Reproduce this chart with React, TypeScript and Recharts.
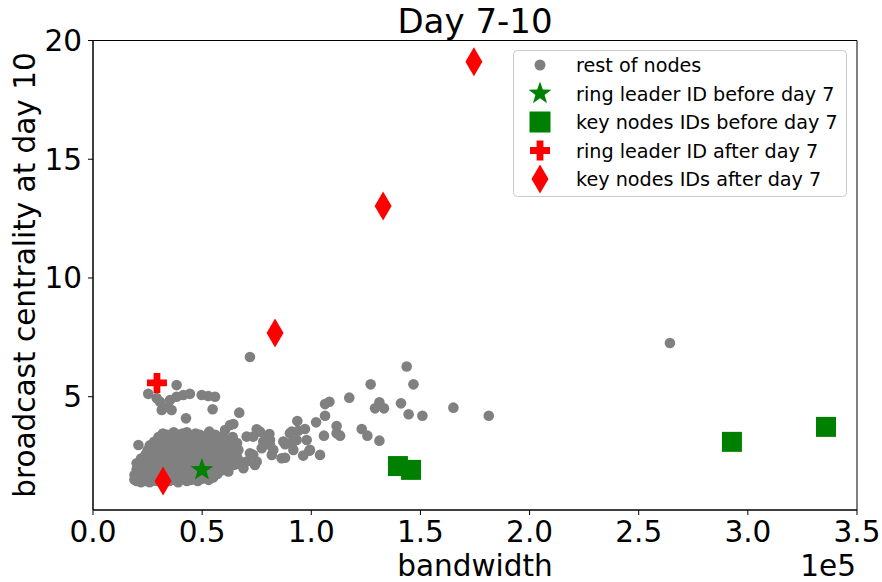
import React from 'react';
import { ScatterChart, Scatter, XAxis, YAxis, ReferenceArea } from 'recharts';

const FONT = '"DejaVu Sans", sans-serif';

// [bandwidth, broadcast centrality]
const restOfNodes: [number, number][] = [
  [71900, 6.67], [264300, 7.26], [143700, 6.27], [127200, 5.52], [146800, 5.52], [117400, 4.96],
  [108300, 4.79], [106300, 4.69], [131200, 4.77], [129200, 4.51], [133300, 4.51], [141100, 4.72],
  [144600, 4.26], [150900, 4.2], [165100, 4.54], [181300, 4.2], [106300, 4.2], [111600, 3.77],
  [105800, 3.36], [113200, 3.36], [123100, 3.64], [125700, 3.36], [131200, 3.15], [104000, 2.55],
  [93600, 3.98], [102200, 3.92], [91000, 3.53], [94000, 3.57], [97100, 3.64], [88000, 3.0],
  [91800, 3.11], [88000, 2.43], [96300, 2.52], [99100, 2.73], [67000, 4.33], [64300, 3.85],
  [60500, 3.6], [59000, 3.32], [75000, 3.63], [76500, 3.53], [73400, 3.32], [80800, 3.43],
  [81100, 3.18], [78000, 3.11], [77300, 2.83], [82600, 2.76], [81900, 2.55], [73400, 2.55],
  [70400, 2.27], [74200, 2.13], [68900, 1.99], [64300, 2.13], [61200, 1.92], [87200, 3.11],
  [90200, 3.04], [93300, 3.18], [86400, 2.41], [38300, 5.49], [25300, 5.12], [29200, 4.94],
  [30700, 4.79], [35300, 4.86], [38300, 5.0], [41400, 5.07], [44400, 5.12], [49800, 5.07],
  [52800, 5.03], [55900, 5.0], [34500, 4.58], [31500, 4.44], [36000, 4.44], [54800, 4.47],
  [42600, 4.09], [53300, 3.53], [20800, 2.97], [62800, 3.81], [70400, 3.32], [79600, 3.32],
  [81100, 2.97], [71900, 2.62], [75000, 2.27], [66600, 2.76], [90200, 3.46], [97900, 3.18],
  [91800, 2.76], [99400, 2.76], [111600, 3.46],
  [19000, 1.5], [19000, 1.7], [20000, 1.45], [20000, 1.95], [20000, 2.2], [21000, 1.6], [21000, 1.85],
  [22000, 1.4], [22000, 2.05], [22000, 2.4], [23000, 1.55], [23000, 1.75], [23000, 2.25],
  [24000, 1.45], [24000, 1.95], [24000, 2.55], [25000, 1.65], [25000, 2.15], [25000, 2.75],
  [26000, 1.4], [26000, 1.85], [26000, 2.4], [26000, 2.95], [27000, 1.55], [27000, 2.1], [27000, 2.6],
  [28000, 1.7], [28000, 2.3], [28000, 2.85], [28000, 3.1], [29000, 1.45], [29000, 1.95], [29000, 2.5],
  [30000, 1.6], [30000, 2.15], [30000, 2.75], [30000, 3.3], [31000, 1.85], [31000, 2.4], [31000, 3.0],
  [32000, 1.55], [32000, 2.1], [32000, 2.65], [32000, 3.45], [33000, 1.4], [33000, 1.9], [33000, 2.85],
  [33000, 3.2], [34000, 1.65], [34000, 2.3], [34000, 2.55], [34000, 3.4], [35000, 1.45], [35000, 2.05],
  [35000, 2.8], [35000, 3.05], [36000, 1.75], [36000, 2.45], [36000, 3.3], [37000, 1.5], [37000, 2.2],
  [37000, 2.7], [37000, 3.5], [38000, 1.95], [38000, 2.95], [38000, 3.15], [39000, 1.4], [39000, 1.65],
  [39000, 2.4], [39000, 3.4], [40000, 2.1], [40000, 2.65], [40000, 3.0], [41000, 1.55], [41000, 1.85],
  [41000, 2.9], [41000, 3.45], [42000, 2.3], [42000, 2.55], [42000, 3.2], [43000, 1.45], [43000, 2.0],
  [43000, 2.8], [43000, 3.5], [44000, 1.7], [44000, 2.45], [44000, 3.1], [45000, 1.5], [45000, 2.2],
  [45000, 2.75], [45000, 3.35], [46000, 1.9], [46000, 2.55], [46000, 3.0], [47000, 1.6], [47000, 2.35],
  [47000, 3.45], [48000, 1.45], [48000, 2.05], [48000, 2.85], [48000, 3.2], [49000, 1.75], [49000, 2.5],
  [49000, 3.4], [50000, 1.55], [50000, 2.25], [50000, 2.95], [51000, 1.95], [51000, 2.7], [51000, 3.3],
  [52000, 1.65], [52000, 2.4], [52000, 3.05], [53000, 1.5], [53000, 2.15], [53000, 2.85], [53000, 3.45],
  [54000, 1.85], [54000, 2.6], [54000, 3.2], [55000, 1.6], [55000, 2.35], [55000, 2.95], [56000, 2.05],
  [56000, 2.75], [56000, 3.4], [57000, 1.75], [57000, 2.5], [57000, 3.15], [58000, 2.2], [58000, 2.9],
  [59000, 1.9], [59000, 2.65], [59000, 3.05], [60000, 2.4], [60000, 3.25], [61000, 2.1], [61000, 2.8],
  [62000, 1.85], [62000, 2.55], [62000, 3.1], [63000, 2.3], [63000, 2.95], [64000, 2.6], [64000, 3.3],
  [65000, 2.15], [65000, 2.85], [66000, 2.45], [66000, 3.05], [67000, 2.3],
];
const ringLeaderBefore: [number, number][] = [[49900, 1.92]];
const keyNodesBefore: [number, number][] = [[139700, 2.08], [145700, 1.92], [292700, 3.1], [335800, 3.73]];
const ringLeaderAfter: [number, number][] = [[29300, 5.58]];
const keyNodesAfter: [number, number][] = [[32100, 1.45], [83400, 7.68], [132900, 13.03], [174500, 19.1]];

const xTicks = [0, 50000, 100000, 150000, 200000, 250000, 300000, 350000];
const yTicks = [5, 10, 15, 20];
const xDomain: [number, number] = [0, 350000];
const yDomain: [number, number] = [0.23, 20];

const legendLabels = [
  'rest of nodes',
  'ring leader ID before day 7',
  'key nodes IDs before day 7',
  'ring leader ID after day 7',
  'key nodes IDs after day 7',
];

const toPts = (arr: [number, number][]) => arr.map(([x, y]) => ({ x, y }));

const GREY = '#808080';
const GREEN = '#008000';
const RED = '#ff0000';

function starPath(cx: number, cy: number, R: number, r: number) {
  let d = '';
  for (let i = 0; i < 10; i++) {
    const rad = i % 2 === 0 ? R : r;
    const a = -Math.PI / 2 + (i * Math.PI) / 5;
    d += (i === 0 ? 'M' : 'L') + (cx + rad * Math.cos(a)).toFixed(2) + ',' + (cy + rad * Math.sin(a)).toFixed(2);
  }
  return d + 'Z';
}
function plusPath(cx: number, cy: number, h: number, w: number) {
  return `M${cx - w},${cy - h}L${cx + w},${cy - h}L${cx + w},${cy - w}L${cx + h},${cy - w}L${cx + h},${cy + w}L${cx + w},${cy + w}L${cx + w},${cy + h}L${cx - w},${cy + h}L${cx - w},${cy + w}L${cx - h},${cy + w}L${cx - h},${cy - w}L${cx - w},${cy - w}Z`;
}
function diamondPath(cx: number, cy: number, hw: number, hh: number) {
  return `M${cx},${cy - hh}L${cx + hw},${cy}L${cx},${cy + hh}L${cx - hw},${cy}Z`;
}

const CircleShape = (p: any) => <circle cx={p.cx} cy={p.cy} r={5.3} fill={GREY} />;
const StarShape = (p: any) => <path d={starPath(p.cx, p.cy, 12, 4.8)} fill={GREEN} />;
const SquareShape = (p: any) => <rect x={p.cx - 10} y={p.cy - 10} width={20} height={20} fill={GREEN} />;
const PlusShape = (p: any) => <path d={plusPath(p.cx, p.cy, 10, 3.4)} fill={RED} />;
const DiamondShape = (p: any) => <path d={diamondPath(p.cx, p.cy, 8.5, 14.5)} fill={RED} />;

export default function App() {
  const rows = [65, 93.5, 122, 150.5, 179];
  const mx = 540;
  return (
    <div style={{ position: 'absolute', left: 0, top: 0, width: 882, height: 582, background: '#fff' }}>
      <ScatterChart
        width={882}
        height={582}
        margin={{ top: 40.5, right: 25, bottom: 32, left: 33 }}
      >
        <XAxis
          type="number"
          dataKey="x"
          domain={xDomain}
          ticks={xTicks}
          interval={0}
          allowDataOverflow
          height={40}
          tickSize={5}
          tickMargin={6}
          stroke="#000"
          tick={{ fill: '#000', fontSize: 29.5, fontFamily: FONT }}
          tickFormatter={(v: number) => (v / 1e5).toFixed(1)}
        />
        <YAxis
          type="number"
          dataKey="y"
          domain={yDomain}
          ticks={yTicks}
          interval={0}
          allowDataOverflow
          width={60}
          tickSize={5}
          tickMargin={6}
          stroke="#000"
          tick={{ fill: '#000', fontSize: 29.5, fontFamily: FONT }}
        />
        <ReferenceArea x1={xDomain[0]} x2={xDomain[1]} y1={yDomain[0]} y2={yDomain[1]} fill="none" stroke="#000" strokeWidth={1} fillOpacity={0} />
        <Scatter data={toPts(restOfNodes)} shape={CircleShape} isAnimationActive={false} />
        <Scatter data={toPts(ringLeaderBefore)} shape={StarShape} isAnimationActive={false} />
        <Scatter data={toPts(keyNodesBefore)} shape={SquareShape} isAnimationActive={false} />
        <Scatter data={toPts(ringLeaderAfter)} shape={PlusShape} isAnimationActive={false} />
        <Scatter data={toPts(keyNodesAfter)} shape={DiamondShape} isAnimationActive={false} />
      </ScatterChart>
      <svg width={882} height={582} style={{ position: 'absolute', left: 0, top: 0, pointerEvents: 'none' }}>
        <text x={475} y={33} textAnchor="middle" fontSize={34} fontFamily={FONT} fill="#000">Day 7-10</text>
        <text x={475} y={576} textAnchor="middle" fontSize={29.5} fontFamily={FONT} fill="#000">bandwidth</text>
        <text x={856} y={576} textAnchor="end" fontSize={29.5} fontFamily={FONT} fill="#000">1e5</text>
        <text transform="rotate(-90)" x={-275} y={35} textAnchor="middle" fontSize={29.5} fontFamily={FONT} fill="#000">broadcast centrality at day 10</text>
        <rect x={513.5} y={50.5} width={333} height={146} rx={4} fill="#fff" fillOpacity={0.8} stroke="#cccccc" />
        <circle cx={mx} cy={rows[0]} r={5.5} fill={GREY} />
        <path d={starPath(mx, rows[1], 12, 4.8)} fill={GREEN} />
        <rect x={mx - 10.5} y={rows[2] - 10.5} width={21} height={21} fill={GREEN} />
        <path d={plusPath(mx, rows[3], 10, 3.4)} fill={RED} />
        <path d={diamondPath(mx, rows[4], 8.5, 14.5)} fill={RED} />
        {legendLabels.map((l, i) => (
          <text key={l} x={576} y={rows[i] + 7} fontSize={19.2} fontFamily={FONT} fill="#000">{l}</text>
        ))}
      </svg>
    </div>
  );
}
